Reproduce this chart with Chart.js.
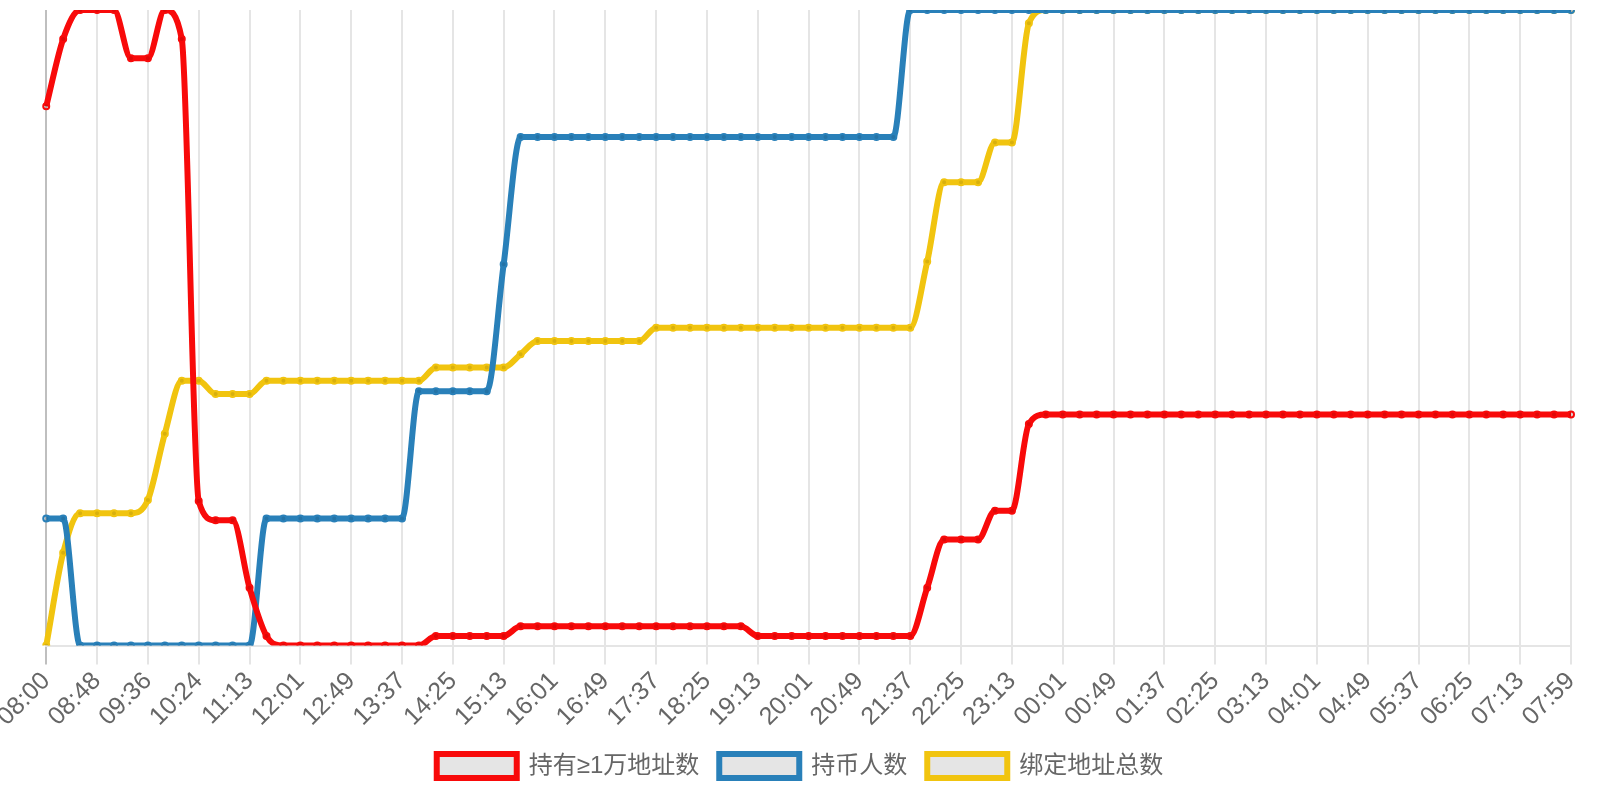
<!DOCTYPE html>
<html>
<head>
<meta charset="utf-8">
<title>持币统计</title>
<script src="https://cdn.jsdelivr.net/npm/chart.js@4"></script>
<style>
    html, body { margin: 0; padding: 0; background: #fff; }
    #wrap { width: 1600px; height: 800px; }
</style>
</head>
<body>
<div id="wrap"><canvas id="myChart"></canvas></div>
<script>
// tick labels shown under every third point (points are ~16 min apart)
const tickLabels = ['08:00', '08:48', '09:36', '10:24', '11:13', '12:01', '12:49', '13:37', '14:25', '15:13',
    '16:01', '16:49', '17:37', '18:25', '19:13', '20:01', '20:49', '21:37', '22:25', '23:13',
    '00:01', '00:49', '01:37', '02:25', '03:13', '04:01', '04:49', '05:37', '06:25', '07:13', '07:59'];

const seriesNames = ['持有≥1万地址数', '持币人数', '绑定地址总数'];
const seriesColors = ['#f80a0a', '#2980b9', '#f1c40f'];

// 持有≥1万地址数
const bigHolders = [
    2160, 2167, 2170, 2170, 2170, 2165, 2165, 2170, 2167, 2119,
    2117, 2117, 2110, 2105, 2104, 2104, 2104, 2104, 2104, 2104,
    2104, 2104, 2104, 2105, 2105, 2105, 2105, 2105, 2106, 2106,
    2106, 2106, 2106, 2106, 2106, 2106, 2106, 2106, 2106, 2106,
    2106, 2106, 2105, 2105, 2105, 2105, 2105, 2105, 2105, 2105,
    2105, 2105, 2110, 2115, 2115, 2115, 2118, 2118, 2127, 2128,
    2128, 2128, 2128, 2128, 2128, 2128, 2128, 2128, 2128, 2128,
    2128, 2128, 2128, 2128, 2128, 2128, 2128, 2128, 2128, 2128,
    2128, 2128, 2128, 2128, 2128, 2128, 2128, 2128, 2128, 2128,
    2128
];

// 持币人数
const holders = [
    18204, 18204, 18203, 18203, 18203, 18203, 18203, 18203, 18203, 18203,
    18203, 18203, 18203, 18204, 18204, 18204, 18204, 18204, 18204, 18204,
    18204, 18204, 18205, 18205, 18205, 18205, 18205, 18206, 18207, 18207,
    18207, 18207, 18207, 18207, 18207, 18207, 18207, 18207, 18207, 18207,
    18207, 18207, 18207, 18207, 18207, 18207, 18207, 18207, 18207, 18207,
    18207, 18208, 18208, 18208, 18208, 18208, 18208, 18208, 18208, 18208,
    18208, 18208, 18208, 18208, 18208, 18208, 18208, 18208, 18208, 18208,
    18208, 18208, 18208, 18208, 18208, 18208, 18208, 18208, 18208, 18208,
    18208, 18208, 18208, 18208, 18208, 18208, 18208, 18208, 18208, 18208,
    18208
];

// 绑定地址总数
const boundAddresses = [
    5310, 5317, 5320, 5320, 5320, 5320, 5321, 5326, 5330, 5330,
    5329, 5329, 5329, 5330, 5330, 5330, 5330, 5330, 5330, 5330,
    5330, 5330, 5330, 5331, 5331, 5331, 5331, 5331, 5332, 5333,
    5333, 5333, 5333, 5333, 5333, 5333, 5334, 5334, 5334, 5334,
    5334, 5334, 5334, 5334, 5334, 5334, 5334, 5334, 5334, 5334,
    5334, 5334, 5339, 5345, 5345, 5345, 5348, 5348, 5357, 5358,
    5358, 5358, 5358, 5358, 5358, 5358, 5358, 5358, 5358, 5358,
    5358, 5358, 5358, 5358, 5358, 5358, 5358, 5358, 5358, 5358,
    5358, 5358, 5358, 5358, 5358, 5358, 5358, 5358, 5358, 5358,
    5358
];

// one category per point, only every third one gets a label
const labels = bigHolders.map((_, i) => (i % 3 === 0 ? tickLabels[i / 3] : ''));

Chart.defaults.font.family = "'Helvetica Neue', Helvetica, Arial, 'Noto Sans CJK SC', sans-serif";
Chart.defaults.font.size = 24;
Chart.defaults.color = '#666';

function makeDataset(i, data, axis) {
    return {
        label: seriesNames[i],
        data: data,
        yAxisID: axis,
        borderColor: seriesColors[i],
        backgroundColor: 'rgba(0,0,0,0.1)',
        borderWidth: 6,
        fill: false,
        cubicInterpolationMode: 'monotone',
        pointRadius: 3,
        pointBorderWidth: 2,
        pointBackgroundColor: 'rgba(0,0,0,0.1)',
        pointBorderColor: seriesColors[i]
    };
}

function hiddenAxis(data) {
    return {
        type: 'linear',
        display: false,
        min: Math.min(...data),
        max: Math.max(...data)
    };
}

const ctx = document.getElementById('myChart').getContext('2d');
new Chart(ctx, {
    type: 'line',
    data: {
        labels: labels,
        datasets: [
            makeDataset(0, bigHolders, 'y'),
            makeDataset(1, holders, 'y1'),
            makeDataset(2, boundAddresses, 'y2')
        ]
    },
    options: {
        responsive: true,
        maintainAspectRatio: false,
        animation: false,
        layout: {
            padding: {top: 10, right: 29, left: 29, bottom: 12}
        },
        scales: {
            x: {
                grid: {
                    lineWidth: 2,
                    tickLength: 19,
                    color: c => (c.index % 3 !== 0 ? 'rgba(0,0,0,0)'
                        : (c.index === 0 ? 'rgba(0,0,0,0.25)' : 'rgba(0,0,0,0.1)'))
                },
                border: {color: 'rgba(0,0,0,0.1)', width: 2},
                ticks: {
                    autoSkip: false,
                    minRotation: 45,
                    maxRotation: 45,
                    padding: 2,
                    font: {size: 25}
                }
            },
            y: hiddenAxis(bigHolders),
            y1: hiddenAxis(holders),
            y2: hiddenAxis(boundAddresses)
        },
        plugins: {
            legend: {
                position: 'bottom',
                labels: {
                    boxWidth: 80,
                    padding: 20
                }
            },
            tooltip: {enabled: false}
        }
    }
});
</script>
</body>
</html>
